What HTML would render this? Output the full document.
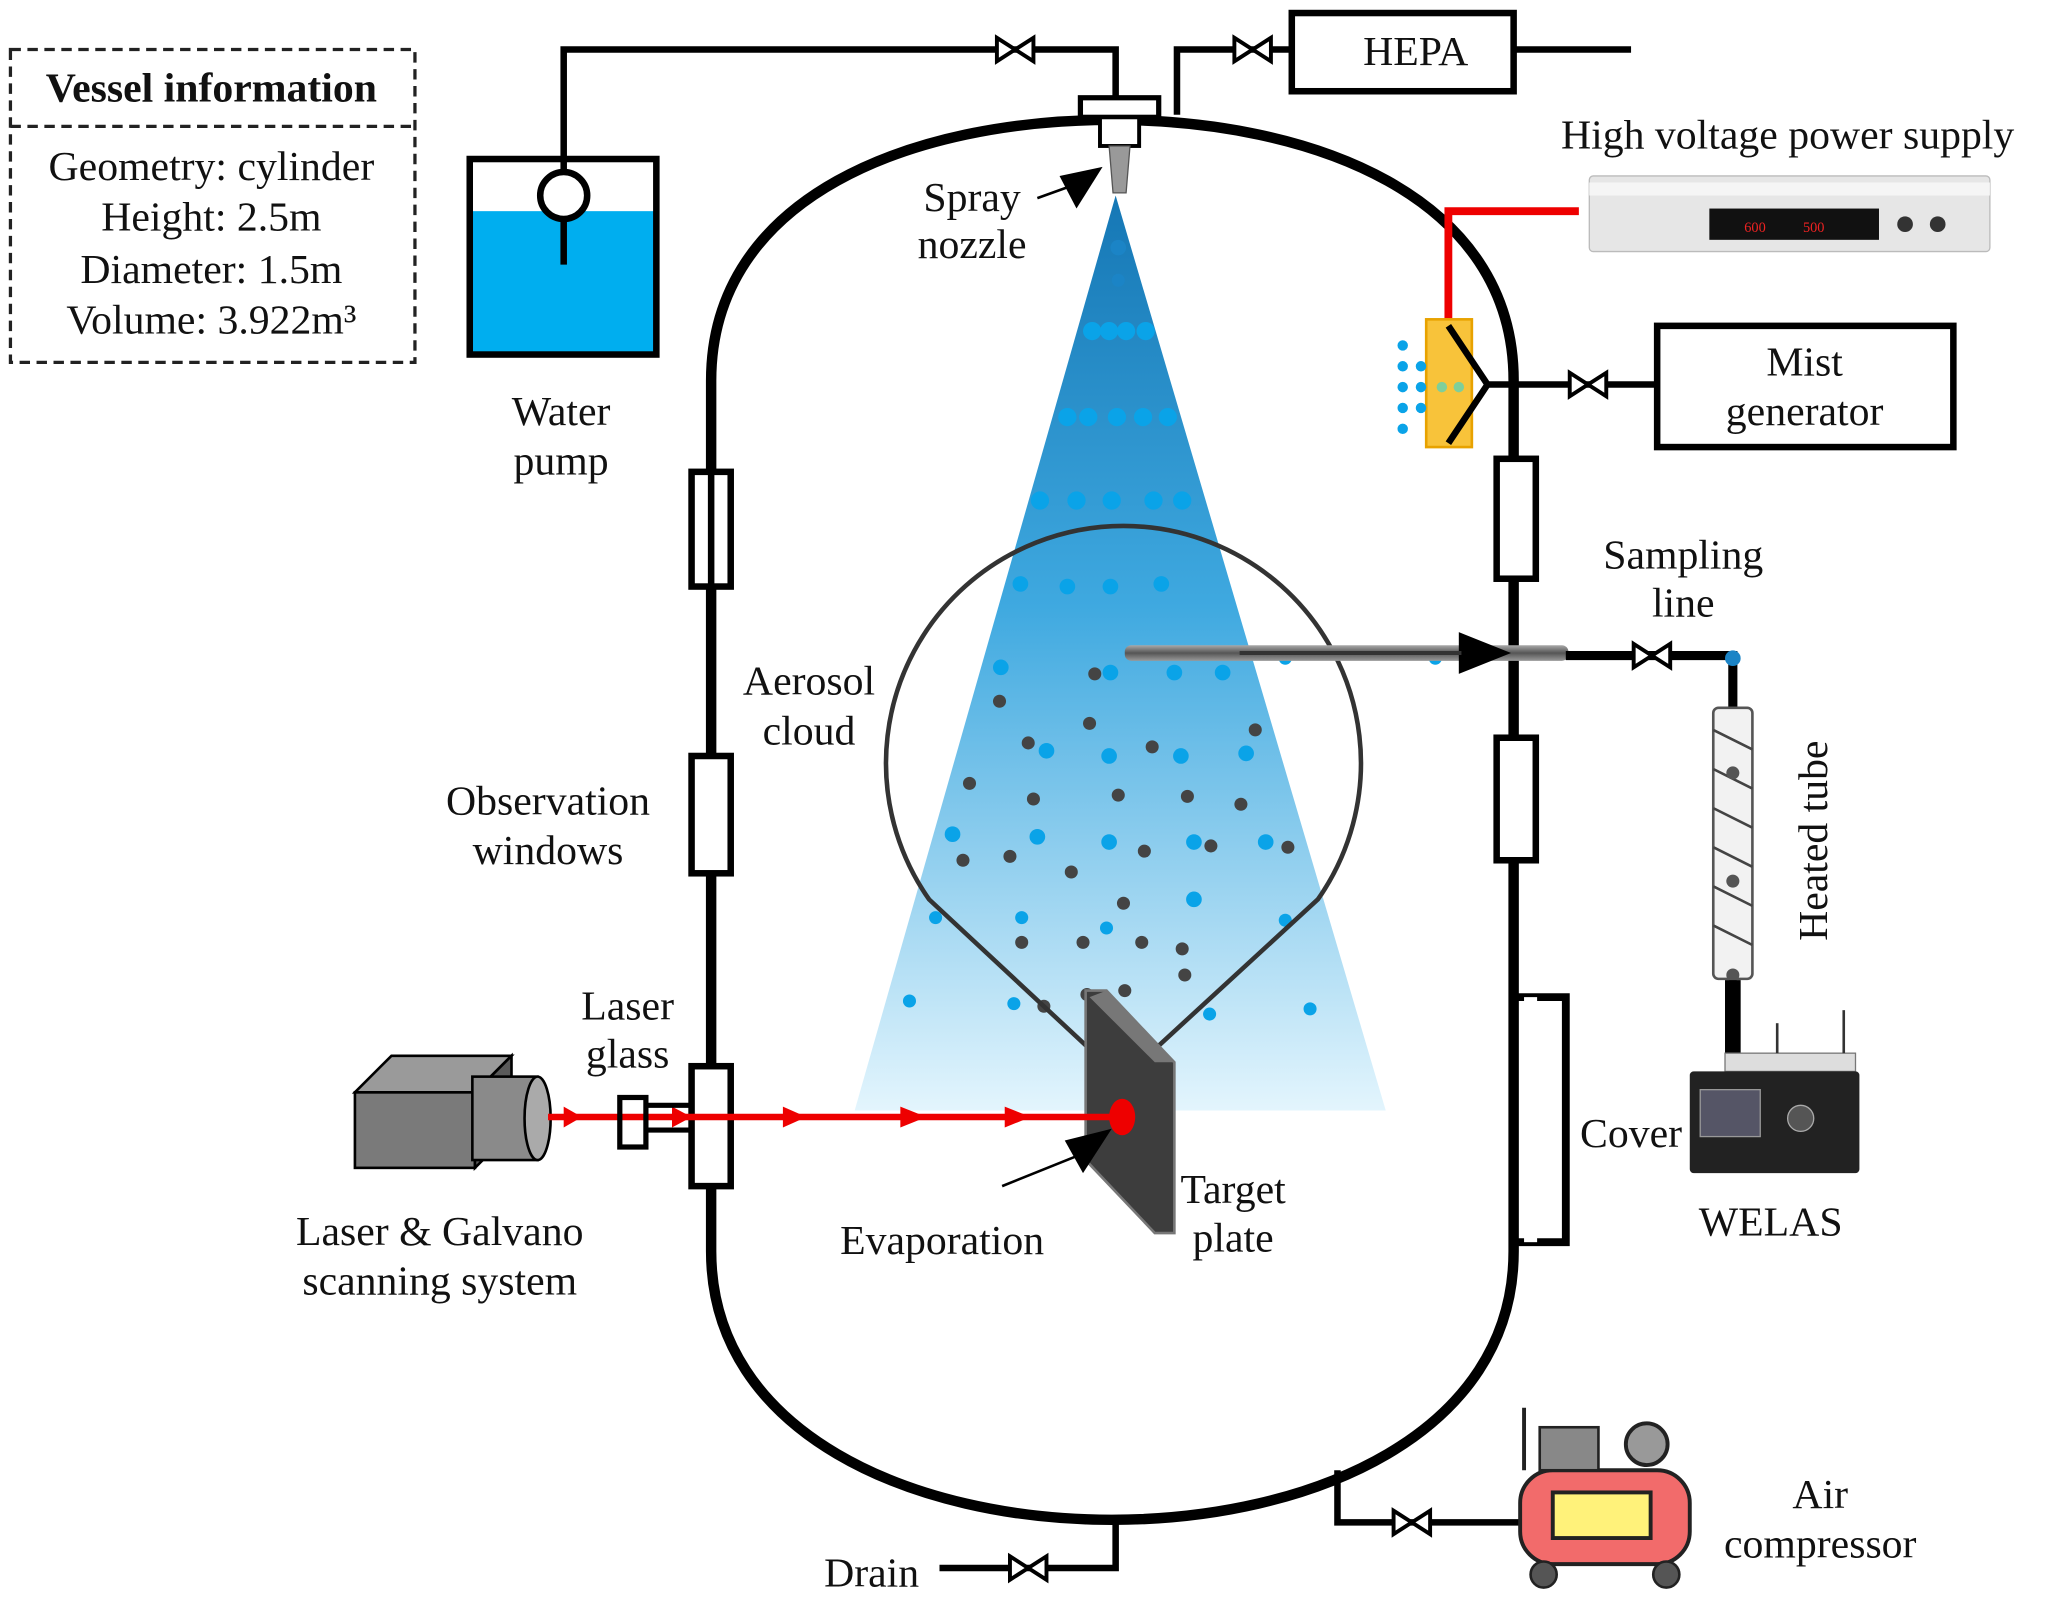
<!DOCTYPE html>
<html><head><meta charset="utf-8"><style>html,body{margin:0;padding:0;background:#fff}svg{display:block}text{font-family:"Liberation Serif",serif;font-size:32px;fill:#111}</style></head><body>
<svg width="2046" height="1598" viewBox="0 0 1568 1226" preserveAspectRatio="none" xmlns="http://www.w3.org/2000/svg">
<defs>
<linearGradient id="cone" x1="0" y1="0" x2="0" y2="1"><stop offset="0" stop-color="#1577b5"/><stop offset="0.45" stop-color="#3fa9e0"/><stop offset="1" stop-color="#e3f5fd"/></linearGradient>
<linearGradient id="pipe" x1="0" y1="0" x2="0" y2="1"><stop offset="0" stop-color="#aaa"/><stop offset="0.5" stop-color="#555"/><stop offset="1" stop-color="#999"/></linearGradient>
<g id="valve"><path d="M-14,-9 L14,9 L14,-9 L-14,9 Z" fill="#fff" stroke="#000" stroke-width="3"/></g>
</defs>
<rect x="8" y="38" width="310" height="240" fill="none" stroke="#222" stroke-width="2.5" stroke-dasharray="8,5"/>
<line x1="8" y1="97" x2="318" y2="97" stroke="#222" stroke-width="2.5" stroke-dasharray="8,5"/>
<text x="162" y="78" text-anchor="middle" style="font-weight:bold">Vessel information</text>
<text x="162" y="138" text-anchor="middle">Geometry: cylinder</text>
<text x="162" y="177" text-anchor="middle">Height: 2.5m</text>
<text x="162" y="217" text-anchor="middle">Diameter: 1.5m</text>
<text x="162" y="256" text-anchor="middle">Volume: 3.922m³</text>
<polyline points="432,130 432,38 855,38 855,75" fill="none" stroke="#000" stroke-width="5"/>
<use href="#valve" x="778" y="38"/>
<polyline points="902,88 902,38 990,38" fill="none" stroke="#000" stroke-width="5"/>
<use href="#valve" x="960" y="38"/>
<rect x="990" y="10" width="170" height="60" fill="#fff" stroke="#000" stroke-width="5"/>
<text x="1085" y="50" text-anchor="middle">HEPA</text>
<line x1="1160" y1="38" x2="1250" y2="38" stroke="#000" stroke-width="5"/>
<rect x="360" y="162" width="143" height="110" fill="#00aeef"/>
<rect x="360" y="122" width="143" height="150" fill="none" stroke="#000" stroke-width="5"/>
<circle cx="432" cy="150" r="18" fill="#fff" stroke="#000" stroke-width="5"/>
<line x1="432" y1="168" x2="432" y2="203" stroke="#000" stroke-width="5"/>
<text x="430" y="326" text-anchor="middle">Water</text><text x="430" y="364" text-anchor="middle">pump</text>
<polygon points="855,150 655,852 1062,852" fill="url(#cone)"/>
<path d="M545,292 C545,150 700,92 852,92 C1005,92 1160,150 1160,292 L1160,960 C1160,1100 1005,1166 852,1166 C700,1166 545,1100 545,960 Z" fill="none" stroke="#000" stroke-width="8"/>
<rect x="828" y="75" width="60" height="15" fill="#fff" stroke="#000" stroke-width="4"/>
<rect x="843" y="90" width="30" height="22" fill="#fff" stroke="#000" stroke-width="3"/>
<polygon points="850,112 866,112 863,148 853,148" fill="#999" stroke="#555" stroke-width="1"/>
<text x="745" y="162" text-anchor="middle">Spray</text><text x="745" y="198" text-anchor="middle">nozzle</text>
<line x1="795" y1="152" x2="820" y2="143" stroke="#000" stroke-width="2"/>
<polygon points="812,135 845,128 825,160" fill="#000"/>
<g fill="#fff" stroke="#000" stroke-width="5">
<rect x="530" y="362" width="30" height="88"/><rect x="530" y="580" width="30" height="90"/><rect x="530" y="818" width="30" height="92"/>
<rect x="1147" y="352" width="30" height="92"/><rect x="1147" y="566" width="30" height="94"/>
</g>
<line x1="545" y1="362" x2="545" y2="450" stroke="#000" stroke-width="5"/>
<polyline points="1162,765 1200,765 1200,953 1162,953" fill="none" stroke="#000" stroke-width="6"/>
<rect x="1168" y="765" width="10" height="188" fill="#fff"/>
<text x="1250" y="880" text-anchor="middle">Cover</text>
<g fill="#0aa3e8">
<circle cx="857" cy="190" r="6" fill="#1b84c6"/><circle cx="857" cy="215" r="5" fill="#1b84c6"/>
<circle cx="837" cy="254" r="7"/><circle cx="850" cy="254" r="7"/><circle cx="863" cy="254" r="7"/><circle cx="878" cy="254" r="7"/>
<circle cx="818" cy="320" r="7"/><circle cx="834" cy="320" r="7"/><circle cx="856" cy="320" r="7"/><circle cx="876" cy="320" r="7"/><circle cx="895" cy="320" r="7"/>
<circle cx="797" cy="384" r="7"/><circle cx="825" cy="384" r="7"/><circle cx="852" cy="384" r="7"/><circle cx="884" cy="384" r="7"/><circle cx="906" cy="384" r="7"/>
<circle cx="782" cy="448" r="6"/><circle cx="818" cy="450" r="6"/><circle cx="851" cy="450" r="6"/><circle cx="890" cy="448" r="6"/>
<circle cx="767" cy="512" r="6"/><circle cx="851" cy="516" r="6"/><circle cx="900" cy="516" r="6"/><circle cx="937" cy="516" r="6"/><circle cx="985" cy="505" r="5"/><circle cx="1100" cy="505" r="5"/>
<circle cx="802" cy="576" r="6"/><circle cx="850" cy="580" r="6"/><circle cx="905" cy="580" r="6"/><circle cx="955" cy="578" r="6"/>
<circle cx="730" cy="640" r="6"/><circle cx="795" cy="642" r="6"/><circle cx="850" cy="646" r="6"/><circle cx="915" cy="646" r="6"/><circle cx="970" cy="646" r="6"/>
<circle cx="717" cy="704" r="5"/><circle cx="783" cy="704" r="5"/><circle cx="848" cy="712" r="5"/><circle cx="915" cy="690" r="6"/><circle cx="985" cy="706" r="5"/>
<circle cx="697" cy="768" r="5"/><circle cx="777" cy="770" r="5"/><circle cx="848" cy="776" r="5"/><circle cx="927" cy="778" r="5"/><circle cx="1004" cy="774" r="5"/>
</g>
<g fill="#444">
<circle cx="766" cy="538" r="5"/><circle cx="839" cy="517" r="5"/><circle cx="835" cy="555" r="5"/><circle cx="962" cy="560" r="5"/><circle cx="788" cy="570" r="5"/><circle cx="883" cy="573" r="5"/>
<circle cx="743" cy="601" r="5"/><circle cx="792" cy="613" r="5"/><circle cx="857" cy="610" r="5"/><circle cx="910" cy="611" r="5"/><circle cx="951" cy="617" r="5"/>
<circle cx="738" cy="660" r="5"/><circle cx="774" cy="657" r="5"/><circle cx="821" cy="669" r="5"/><circle cx="877" cy="653" r="5"/><circle cx="928" cy="649" r="5"/><circle cx="987" cy="650" r="5"/>
<circle cx="861" cy="693" r="5"/><circle cx="783" cy="723" r="5"/><circle cx="830" cy="723" r="5"/><circle cx="875" cy="723" r="5"/><circle cx="906" cy="728" r="5"/>
<circle cx="800" cy="772" r="5"/><circle cx="833" cy="763" r="5"/><circle cx="862" cy="760" r="5"/><circle cx="908" cy="748" r="5"/>
</g>
<path d="M860,828 L712,690 A182,182 0 1 1 1010,690 Z" fill="none" stroke="#333" stroke-width="3.5" stroke-linejoin="round"/>
<text x="620" y="533" text-anchor="middle">Aerosol</text><text x="620" y="571" text-anchor="middle">cloud</text>
<rect x="862" y="495" width="340" height="12" fill="url(#pipe)" rx="5"/>
<polygon points="1118,485 1158,501 1118,517" fill="#000"/>
<line x1="950" y1="501" x2="1120" y2="501" stroke="#333" stroke-width="3"/>
<polyline points="1200,503 1328,503 1328,545" fill="none" stroke="#000" stroke-width="7"/>
<use href="#valve" x="1266" y="503"/>
<circle cx="1328" cy="505" r="6" fill="#1b84c6"/>
<text x="1290" y="436" text-anchor="middle">Sampling</text><text x="1290" y="473" text-anchor="middle">line</text>
<rect x="1313" y="543" width="30" height="208" fill="#f2f2f2" stroke="#555" stroke-width="2" rx="4"/>
<g stroke="#444" stroke-width="2" fill="none">
<path d="M1313,560 L1343,575 M1313,590 L1343,605 M1313,620 L1343,635 M1313,650 L1343,665 M1313,680 L1343,695 M1313,710 L1343,725"/>
</g>
<circle cx="1328" cy="593" r="5" fill="#555"/><circle cx="1328" cy="676" r="5" fill="#555"/><circle cx="1328" cy="748" r="5" fill="#555"/>
<line x1="1328" y1="752" x2="1328" y2="815" stroke="#000" stroke-width="12"/>
<text x="0" y="0" transform="translate(1400,645) rotate(-90)" text-anchor="middle">Heated tube</text>
<rect x="1322" y="808" width="100" height="14" fill="#ddd" stroke="#777"/>
<line x1="1413" y1="775" x2="1413" y2="808" stroke="#333" stroke-width="2"/><line x1="1362" y1="785" x2="1362" y2="808" stroke="#333" stroke-width="2"/>
<rect x="1295" y="822" width="130" height="78" fill="#222" rx="3"/>
<rect x="1303" y="836" width="46" height="36" fill="#556" stroke="#999"/>
<circle cx="1380" cy="858" r="10" fill="#555" stroke="#aaa"/>
<text x="1357" y="948" text-anchor="middle">WELAS</text>
<rect x="1218" y="135" width="307" height="58" fill="#e6e6e6" stroke="#bbb" rx="3"/>
<rect x="1218" y="140" width="307" height="10" fill="#f5f5f5"/>
<rect x="1310" y="160" width="130" height="24" fill="#111"/>
<text x="1345" y="178" style="font-size:11px;fill:#e22" text-anchor="middle">600</text>
<text x="1390" y="178" style="font-size:11px;fill:#e22" text-anchor="middle">500</text>
<circle cx="1460" cy="172" r="6" fill="#333"/><circle cx="1485" cy="172" r="6" fill="#333"/>
<text x="1370" y="114" text-anchor="middle">High voltage power supply</text>
<polyline points="1210,162 1110,162 1110,245" fill="none" stroke="#e00" stroke-width="6"/>
<rect x="1093" y="245" width="35" height="98" fill="#f8c33a" stroke="#e8a200" stroke-width="2"/>
<path d="M1110,250 L1140,295 L1110,340" fill="none" stroke="#000" stroke-width="5"/>
<g fill="#0aa3e8"><circle cx="1075" cy="265" r="4"/><circle cx="1075" cy="281" r="4"/><circle cx="1089" cy="281" r="4"/><circle cx="1075" cy="297" r="4"/><circle cx="1089" cy="297" r="4"/><circle cx="1075" cy="313" r="4"/><circle cx="1089" cy="313" r="4"/><circle cx="1075" cy="329" r="4"/></g>
<g fill="#7fcf9a"><circle cx="1105" cy="297" r="4"/><circle cx="1118" cy="297" r="4"/></g>
<line x1="1140" y1="295" x2="1272" y2="295" stroke="#000" stroke-width="5"/>
<use href="#valve" x="1217" y="295"/>
<rect x="1270" y="250" width="227" height="93" fill="#fff" stroke="#000" stroke-width="5"/>
<text x="1383" y="288" text-anchor="middle">Mist</text><text x="1383" y="326" text-anchor="middle">generator</text>
<polygon points="832,760 848,760 900,815 900,946 885,946 832,890" fill="#3d3d3d" stroke="#777" stroke-width="2"/>
<polygon points="848,760 900,815 885,815 835,765" fill="#777"/>
<text x="945" y="923" text-anchor="middle">Target</text><text x="945" y="960" text-anchor="middle">plate</text>
<rect x="272" y="838" width="92" height="58" fill="#7a7a7a" stroke="#000" stroke-width="2"/>
<polygon points="272,838 300,810 392,810 364,838" fill="#9a9a9a" stroke="#000" stroke-width="2"/>
<polygon points="364,838 392,810 392,868 364,896" fill="#5a5a5a" stroke="#000" stroke-width="2"/>
<rect x="362" y="826" width="50" height="64" fill="#8a8a8a" stroke="#000" stroke-width="2"/>
<ellipse cx="412" cy="858" rx="10" ry="32" fill="#aaa" stroke="#000" stroke-width="2"/>
<line x1="420" y1="857" x2="860" y2="857" stroke="#e00" stroke-width="5"/>
<g fill="#e00"><polygon points="432,849 446,857 432,865"/><polygon points="515,849 530,857 515,865"/><polygon points="600,849 618,857 600,865"/><polygon points="690,849 710,857 690,865"/><polygon points="770,849 790,857 770,865"/></g>
<rect x="475" y="842" width="20" height="38" fill="none" stroke="#000" stroke-width="4"/>
<line x1="495" y1="848" x2="530" y2="848" stroke="#000" stroke-width="4"/><line x1="495" y1="867" x2="530" y2="867" stroke="#000" stroke-width="4"/>
<ellipse cx="860" cy="857" rx="10" ry="14" fill="#e00"/>
<text x="481" y="782" text-anchor="middle">Laser</text><text x="481" y="819" text-anchor="middle">glass</text>
<text x="337" y="955" text-anchor="middle">Laser &amp; Galvano</text><text x="337" y="993" text-anchor="middle">scanning system</text>
<text x="420" y="625" text-anchor="middle">Observation</text><text x="420" y="663" text-anchor="middle">windows</text>
<line x1="768" y1="910" x2="830" y2="885" stroke="#000" stroke-width="2"/>
<polygon points="816,875 852,866 830,900" fill="#000"/>
<text x="722" y="962" text-anchor="middle">Evaporation</text>
<polyline points="720,1203 855,1203 855,1166" fill="none" stroke="#000" stroke-width="5"/>
<use href="#valve" x="788" y="1203"/>
<text x="668" y="1217" text-anchor="middle">Drain</text>
<polyline points="1025,1128 1025,1168 1170,1168" fill="none" stroke="#000" stroke-width="5"/>
<use href="#valve" x="1082" y="1168"/>
<rect x="1165" y="1128" width="130" height="72" rx="25" fill="#f26b6b" stroke="#222" stroke-width="3"/>
<rect x="1190" y="1145" width="75" height="35" fill="#fff27a" stroke="#222" stroke-width="3"/>
<circle cx="1183" cy="1208" r="10" fill="#555" stroke="#222" stroke-width="2"/><circle cx="1277" cy="1208" r="10" fill="#555" stroke="#222" stroke-width="2"/>
<rect x="1180" y="1095" width="45" height="33" fill="#888" stroke="#222" stroke-width="2"/>
<circle cx="1262" cy="1108" r="16" fill="#999" stroke="#222" stroke-width="3"/>
<line x1="1168" y1="1080" x2="1168" y2="1128" stroke="#222" stroke-width="3"/>
<text x="1395" y="1157" text-anchor="middle">Air</text><text x="1395" y="1195" text-anchor="middle">compressor</text>
</svg>
</body></html>
